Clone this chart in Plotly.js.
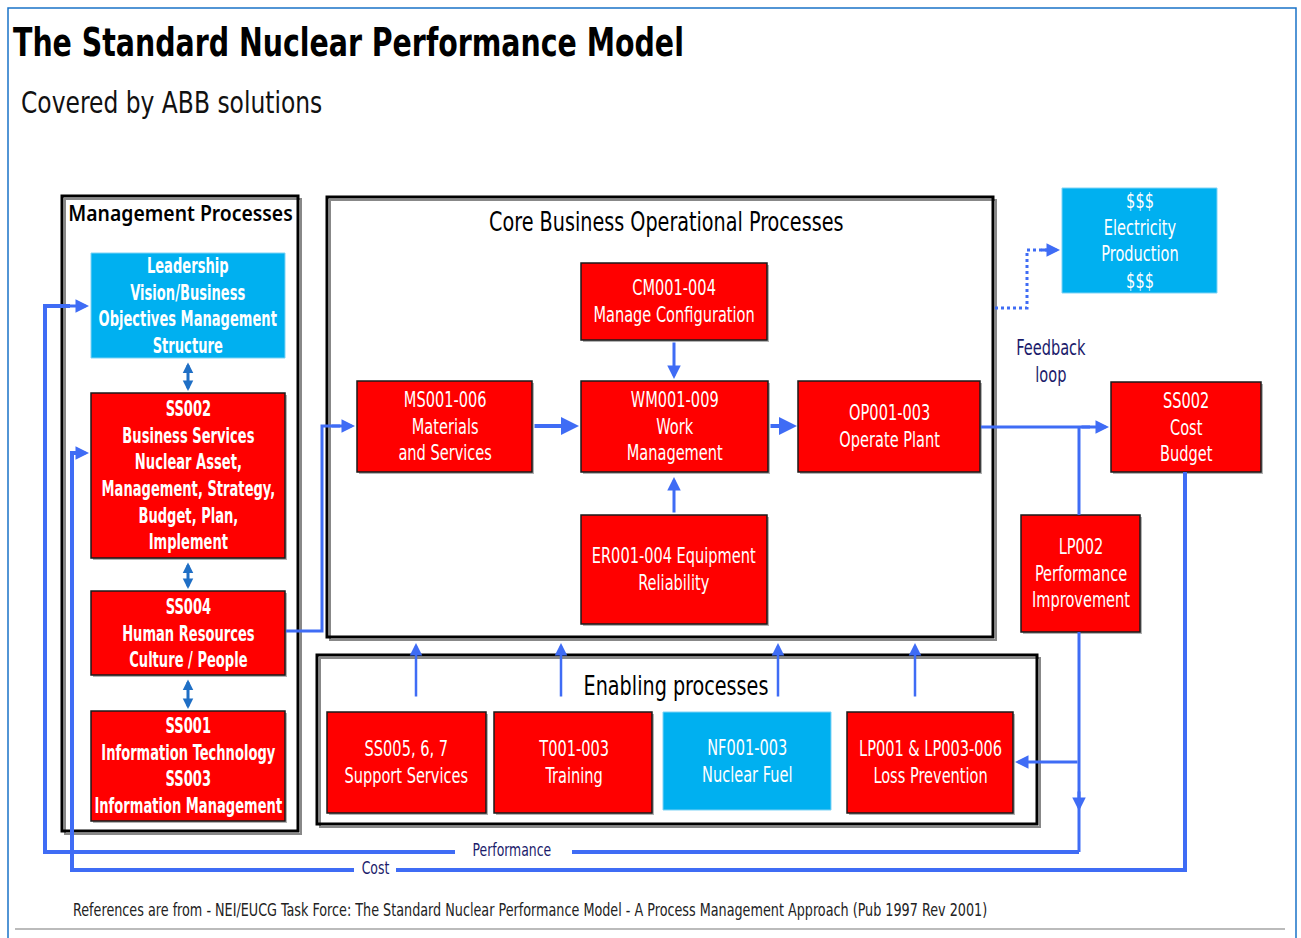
<!DOCTYPE html>
<html>
<head>
<meta charset="utf-8">
<script src="https://cdn.plot.ly/plotly-3.0.1.min.js"></script>
<style>html,body{margin:0;padding:0;background:#fff;}#chart{width:1301px;height:938px;}</style>
</head>
<body>
<div id="chart"></div>
<script>
// ---------- DATA (text content only) ----------
const titleText = "The Standard Nuclear Performance Model";
const subtitleText = "Covered by ABB solutions";
const groupTitles = ["Management Processes", "Core Business Operational Processes", "Enabling processes"];
const managementLabels = [
  "Leadership<br>Vision/Business<br>Objectives Management<br>Structure",
  "SS002<br>Business Services<br>Nuclear Asset,<br>Management, Strategy,<br>Budget, Plan,<br>Implement",
  "SS004<br>Human Resources<br>Culture / People",
  "SS001<br>Information Technology<br>SS003<br>Information Management"
];
const coreLabels = [
  "CM001-004<br>Manage Configuration",
  "MS001-006<br>Materials<br>and Services",
  "WM001-009<br>Work<br>Management",
  "OP001-003<br>Operate Plant",
  "ER001-004 Equipment<br>Reliability"
];
const enablingLabels = [
  "SS005, 6, 7<br>Support Services",
  "T001-003<br>Training",
  "NF001-003<br>Nuclear Fuel",
  "LP001 & LP003-006<br>Loss Prevention"
];
const outcomeLabels = [
  "$$$<br>Electricity<br>Production<br>$$$",
  "SS002<br>Cost<br>Budget",
  "LP002<br>Performance<br>Improvement"
];
const flowLabels = ["Feedback<br>loop", "Performance", "Cost"];
const footnoteText = "References are from - NEI/EUCG Task Force: The Standard Nuclear Performance Model - A Process Management Approach (Pub 1997 Rev 2001)";

// ---------- GEOMETRY & STYLE ----------
const RED = "#FF0000", CYAN = "#00B0F0", BLUE = "#3F6CF5", DBLUE = "#1F6FC5", NAVY = "#1B1B6B";
const NARROW = '"DejaVu Sans Condensed", "DejaVu Sans", sans-serif';
const SANS = '"Noto Sans", "Open Sans", sans-serif';
const SQ = 0.79; // horizontal squeeze for condensed look

const groupGeom = [[62,196,298,831],[327,197,993,637],[317,655,1037,824]];
const groupTitlePos = [[180,212,SANS,22,0.88,600],[666,221,NARROW,27,SQ,"normal"],[676,685,NARROW,27,SQ,"normal"]];
const mgmtGeom = [[91,253,285,358,CYAN],[91,393,285,558,RED],[91,591,285,675,RED],[91,711,285,821,RED]];
const coreGeom = [[581,263,767,340,RED],[357,381,532,472,RED],[581,381,768,472,RED],[798,381,980,472,RED],[581,515,767,624,RED]];
const enabGeom = [[327,712,486,813,RED],[494,712,652,813,RED],[663,712,831,810,CYAN],[847,712,1013,813,RED]];
const outGeom = [[1062,188,1217,293,CYAN],[1111,382,1261,472,RED],[1021,515,1140,632,RED]];

const shapes = [];
const annotations = [];
const annScale = [];

function line(pts, color, width, dash) {
  let p = "M " + pts.map(q => q[0] + " " + q[1]).join(" L ");
  shapes.push({type:"path", xref:"x", yref:"y", path:p, line:{color:color, width:width, dash:dash||"solid"}});
}
function arrow(x0,y0,x1,y1,color,width,both,size) {
  annotations.push({x:x1,y:y1,ax:x0,ay:y0,xref:"x",yref:"y",axref:"x",ayref:"y",text:"",showarrow:true,
    arrowhead:2, startarrowhead:2, arrowside: both ? "end+start" : "end",
    arrowsize:size||1, startarrowsize:size||1, arrowwidth:width, arrowcolor:color, standoff:0, startstandoff:0});
  annScale.push(0);
}
function txt(x,y,text,family,size,color,xanchor,scale,weight) {
  annotations.push({x:x,y:y,xref:"x",yref:"y",text:text,showarrow:false,
    font:{family:family,size:size,color:color,weight:weight||"normal"},
    xanchor:xanchor||"center",yanchor:"middle",align:xanchor==="left"?"left":"center"});
  annScale.push(scale||0);
}
function box(g, label, bold) {
  const [x0,y0,x1,y1,fill] = g;
  if (fill !== CYAN)
    shapes.push({type:"rect", xref:"x", yref:"y", x0:x0+2, y0:y0+2, x1:x1+2, y1:y1+2, fillcolor:"rgba(0,0,0,0.3)", line:{width:0}});
  shapes.push({type:"rect", xref:"x", yref:"y", x0:x0, y0:y0, x1:x1, y1:y1, fillcolor:fill,
    line:{color: fill===CYAN ? "#7FD3F5" : "#1a1a1a", width: fill===CYAN ? 1 : 1.5}});
  if (bold) txt((x0+x1)/2, (y0+y1)/2, label, NARROW, 20.5, "#fff", "center", 0.71, "bold");
  else txt((x0+x1)/2, (y0+y1)/2, label, NARROW, 20.5, "#fff", "center", SQ, "normal");
}

// outer frame
line([[8,938],[8,8],[1296,8],[1296,938]], "#1A73C8", 1.5);
line([[15,929],[1285,929]], "#BBBBBB", 2);

// group frames
groupGeom.forEach((g,i) => {
  shapes.push({type:"rect", xref:"x", yref:"y", x0:g[0]+3, y0:g[1]+3, x1:g[2]+3, y1:g[3]+3, fillcolor:"rgba(0,0,0,0)", line:{color:"#888",width:2}});
  shapes.push({type:"rect", xref:"x", yref:"y", x0:g[0], y0:g[1], x1:g[2], y1:g[3], fillcolor:"rgba(0,0,0,0)", line:{color:"#000",width:3}});
  const t = groupTitlePos[i];
  txt(t[0], t[1], groupTitles[i], t[2], t[3], "#000", "center", t[4], t[5]);
});

// boxes
mgmtGeom.forEach((g,i) => box(g, managementLabels[i], true));
coreGeom.forEach((g,i) => box(g, coreLabels[i], false));
enabGeom.forEach((g,i) => box(g, enablingLabels[i], false));
outGeom.forEach((g,i) => box(g, outcomeLabels[i], false));

// management double arrows
arrow(188,361,188,391,DBLUE,3,true,0.7);
arrow(188,561,188,589,DBLUE,3,true,0.7);
arrow(188,678,188,709,DBLUE,3,true,0.7);

// core flows
arrow(674,341,674,379,BLUE,3,false,0.9);
arrow(674,514,674,477,BLUE,3,false,0.9);
arrow(533,426,579,426,BLUE,4,false,0.9);
arrow(769,426,797,426,BLUE,4,false,0.9);
line([[981,427],[1090,427]], BLUE, 3);
arrow(1080,427,1109,427,BLUE,3,false,0.9);
line([[286,631],[322,631],[322,426],[340,426]], BLUE, 3);
arrow(330,426,355,426,BLUE,3,false,0.9);

// enabling -> core
[416,561,778,915].forEach(x => arrow(x,698,x,643,BLUE,2.5,false,1));

// dotted to electricity
line([[995,308],[1027,308],[1027,250],[1050,250]], BLUE, 3, "dot");
arrow(1040,250,1060,250,BLUE,3,false,0.9);

// LP002 vertical feedback
line([[1079,427],[1079,515]], BLUE, 3);
line([[1079,632],[1079,852]], BLUE, 3);
arrow(1079,790,1079,811,BLUE,3,false,0.9);
arrow(1079,762,1015,762,BLUE,3,false,0.9);

// performance loop
line([[1079,852],[572,852]], BLUE, 4);
line([[455,852],[45,852],[45,306],[70,306]], BLUE, 4);
arrow(60,306,89,306,BLUE,3,false,0.9);

// cost loop
line([[1185,472],[1185,870],[396,870]], BLUE, 4);
line([[354,870],[72,870],[72,453],[80,453]], BLUE, 4);
arrow(72,453,89,453,BLUE,3,false,0.9);

// labels
txt(1051,361,flowLabels[0],NARROW,20.5,NAVY,"center",SQ);
txt(512,850,flowLabels[1],NARROW,17.5,NAVY,"center",SQ);
txt(375,868,flowLabels[2],NARROW,17.5,NAVY,"center",SQ);
txt(71,909,footnoteText,NARROW,18.5,"#222","left",0.768);
txt(19,102,subtitleText,NARROW,31,"#111","left",0.84);

const layout = {
  width:1301, height:938,
  margin:{l:0,r:0,t:0,b:0},
  paper_bgcolor:"#fff", plot_bgcolor:"#fff",
  showlegend:false,
  title:{text:"<b>"+titleText+"</b>", x:13/1301, xanchor:"left", xref:"paper", y:1-42/938, yanchor:"middle", yref:"paper",
    font:{family:NARROW, size:39, color:"#000"}},
  xaxis:{range:[0,1301], visible:false, fixedrange:true},
  yaxis:{range:[938,0], visible:false, fixedrange:true},
  shapes:shapes, annotations:annotations
};

function squeeze(el, s) {
  if (!el || !s) return;
  const x = parseFloat(el.getAttribute("x")) || 0;
  el.setAttribute("transform", "matrix(" + s + ",0,0,1," + ((1 - s) * x) + ",0)");
}
const gd = document.getElementById("chart");
Plotly.newPlot(gd, [{x:[],y:[],type:"scatter",mode:"markers",hoverinfo:"skip"}], layout, {displayModeBar:false, staticPlot:true})
  .then(() => {
    gd.querySelectorAll("g.annotation").forEach(g => {
      const i = parseInt(g.getAttribute("data-index"), 10);
      squeeze(g.querySelector("text.annotation-text"), annScale[i]);
    });
    squeeze(gd.querySelector(".gtitle"), 0.81);
  });
</script>
</body>
</html>
